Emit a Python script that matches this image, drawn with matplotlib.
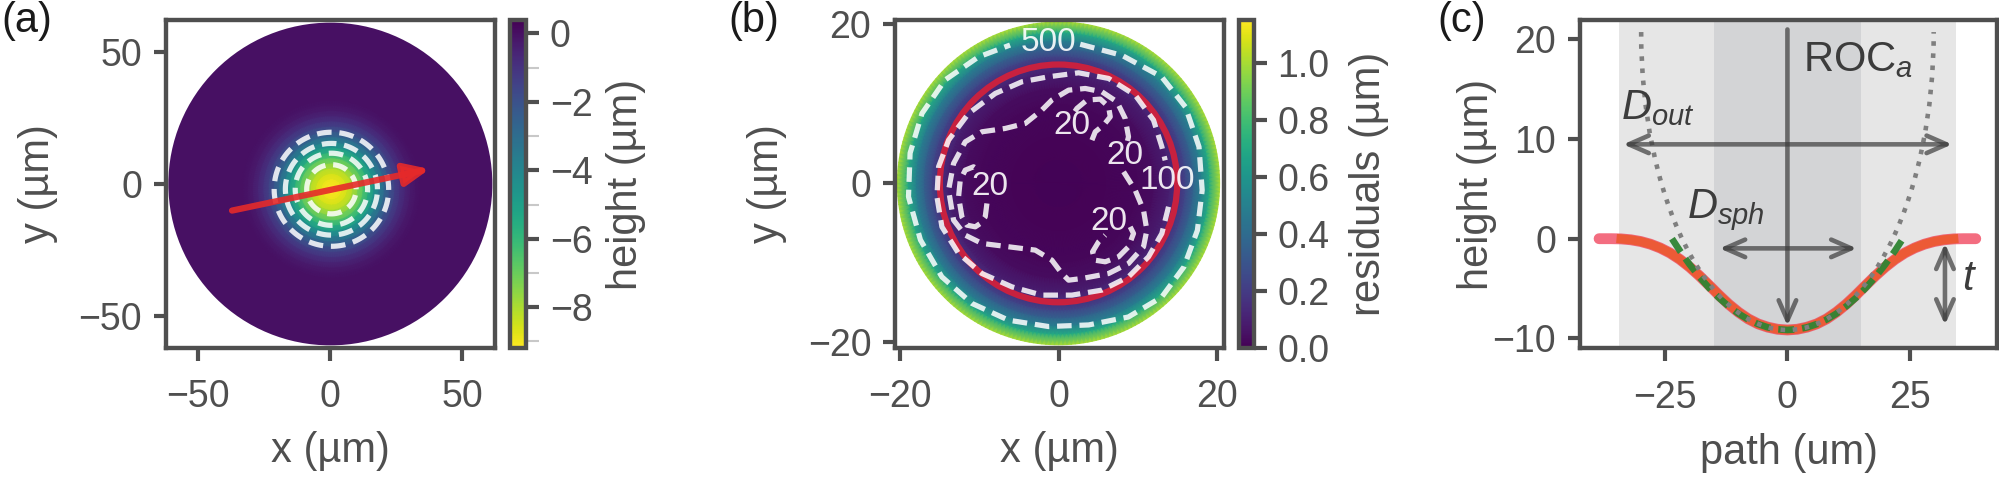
import numpy as np
import matplotlib
matplotlib.use("Agg")
import matplotlib.pyplot as plt
from matplotlib.patches import Circle, Arc

GREY = '#4f4f4f'
plt.rcParams['font.family'] = ['Liberation Sans', 'DejaVu Sans']
plt.rcParams.update({
    'mathtext.fontset': 'custom',
    'mathtext.rm': 'Liberation Sans',
    'mathtext.it': 'Liberation Sans:italic',
    'font.size': 9,
    'axes.labelsize': 10,
    'axes.edgecolor': GREY,
    'axes.linewidth': 1.05,
    'axes.labelcolor': GREY,
    'text.color': GREY,
    'xtick.color': GREY,
    'ytick.color': GREY,
    'xtick.major.size': 3.0,
    'ytick.major.size': 3.0,
    'xtick.major.width': 1.0,
    'ytick.major.width': 1.0,
    'xtick.major.pad': 4.5,
    'ytick.major.pad': 2.7,
    'lines.dashed_pattern': [2.8, 1.5],
})

# ---- data ----
# height profile along the red arrow (panel c), one half, mirrored
path_half = np.array([0, 2, 4, 6, 8, 10, 12, 14, 16, 18, 20, 22, 24, 26, 28, 30, 32, 34, 36, 38.5])
height_half = np.array([-9.16, -9.09, -8.88, -8.55, -8.05, -7.38, -6.58, -5.66, -4.68, -3.72,
                        -2.84, -2.07, -1.43, -0.93, -0.55, -0.28, -0.11, -0.02, 0.0, 0.0])
path = np.concatenate([-path_half[::-1], path_half[1:]])
height = np.concatenate([height_half[::-1], height_half[1:]])

# green dashed fit over the spherical part
fit_half = np.array([0, 2, 4, 6, 8, 10, 12, 14, 16, 18, 20, 22, 23.6])
fit_h_half = np.array([-9.16, -9.09, -8.90, -8.57, -8.11, -7.52, -6.79, -5.94, -4.95, -3.83, -2.58, -1.20, 0.0])
fit_x = np.concatenate([-fit_half[::-1], fit_half[1:]])
fit_h = np.concatenate([fit_h_half[::-1], fit_h_half[1:]])

ROC = 29.9        # sphere radius (dotted)
D_OUT = 68.9
D_SPH = 29.9

# panel (a)
CENTER_A = (0.4, -2.0)
DISK_A = 61.3
levels_a = [-7.6, -5.8, -4.0, -2.2]
arrow_start = (-37.2, -10.1)
arrow_end = (37.6, 5.7)

# panel (b): radial residuals (um)
res_r = np.array([0, 6, 10, 12, 14, 15, 16, 17, 18, 19, 20.3])
res_v = np.array([0.008, 0.012, 0.02, 0.04, 0.1, 0.15, 0.24, 0.36, 0.5, 0.7, 1.0])

c500 = [(2.74, 17.5), (8.0, 16.1), (13.0, 13.4), (16.0, 9.6), (17.7, 4.6), (18.1, -0.85),
        (17.5, -5.9), (15.8, -10.5), (13.0, -14.3), (8.8, -16.8), (3.8, -17.8), (-1.26, -18.0),
        (-6.3, -17.2), (-10.9, -15.1), (-14.7, -11.75), (-17.4, -7.1), (-18.9, -1.68),
        (-18.7, 3.8), (-17.2, 8.8), (-14.3, 13.0), (-10.1, 15.9), (-6.1, 17.4)]
c100 = [(13.86, -2.94), (13.02, -6.30), (11.34, -9.23), (8.82, -11.75), (5.47, -13.42),
        (1.69, -14.05), (-2.10, -14.05), (-5.87, -13.01), (-9.65, -11.33), (-12.59, -8.81),
        (-14.69, -5.46), (-15.32, -1.68), (-15.11, 2.09), (-13.85, 5.44), (-11.33, 8.80),
        (-7.97, 11.31), (-4.61, 12.78), (-1.26, 13.41), (2.53, 13.91), (6.31, 13.20),
        (9.66, 11.10), (11.97, 7.96), (13.02, 4.61), (13.44, 2.9)]
c20_big = [(8.2, 1.46), (9.66, -0.85), (10.71, -3.36), (11.13, -5.88), (10.71, -7.97),
           (8.82, -10.07), (6.31, -11.33), (2.95, -11.96), (1.27, -12.17), (0.43, -11.33),
           (-0.84, -9.65), (-2.93, -8.39), (-6.29, -7.97), (-9.65, -7.55), (-11.75, -6.51),
           (-13.22, -4.62), (-13.85, -0.85), (-13.22, 2.51), (-11.75, 5.23), (-9.65, 6.49),
           (-6.72, 6.91), (-4.19, 7.54), (-2.10, 9.22), (-0.84, 10.48), (1.27, 11.73),
           (3.37, 11.94), (5.47, 11.52), (7.36, 10.27), (8.40, 8.17), (8.82, 5.86), (8.6, 5.0)]
c20_left = [(-9.02, -2.52), (-9.23, -4.20), (-9.86, -5.04), (-10.49, -5.46), (-11.54, -5.25),
            (-12.17, -4.20), (-12.59, -1.68), (-12.38, 0.41), (-11.75, 1.67), (-10.70, 2.09),
            (-10.07, 1.67)]
c20_top = [(4.21, 5.44), (4.63, 6.49), (5.68, 7.33), (6.52, 8.38), (6.31, 9.64), (5.26, 10.60),
           (3.58, 10.48), (2.32, 9.43), (1.9, 8.8)]
c20_bottom = [(9.03, -5.46), (9.45, -6.30), (8.82, -7.97), (7.57, -9.23), (5.89, -9.86),
              (4.54, -9.65), (4.29, -8.60), (5.05, -7.34), (5.89, -6.51)]
contour_lines_b = [c500, c100, c20_big, c20_left, c20_top, c20_bottom]
contour_labels_b = [('500', -1.26, 17.69), ('100', 13.65, 0.41), ('20', 8.40, 3.56),
                    ('20', -8.6, -0.34), ('20', 1.69, 7.33), ('20', 6.31, -4.74)]

# ---- layout (pixel boxes of the reference) ----
W, H = 1999, 479
fig = plt.figure(figsize=(W / 300, H / 300), dpi=300)


def px_axes(l, r, t, b):
    return fig.add_axes([l / W, 1 - b / H, (r - l) / W, (b - t) / H])


ax_a = px_axes(165.7, 495, 20, 348)
cax_a = px_axes(510.5, 526, 20, 348)
ax_b = px_axes(895, 1224, 20, 348)
cax_b = px_axes(1239, 1253.5, 20, 348)
ax_c = px_axes(1580, 1997.3, 20, 348.3)

theta = np.linspace(0, 2 * np.pi, 241)

# ---- (a) height map ----
cmap_a = plt.get_cmap('viridis_r')
norm_a = plt.Normalize(-9.19, 0.39)
R, T = np.meshgrid(path_half, theta, indexing='ij')
Xa = CENTER_A[0] + R * np.cos(T)
Ya = CENTER_A[1] + R * np.sin(T)
Ca = np.repeat(height_half[:, None], theta.size, axis=1)
ax_a.add_patch(Circle((0, 0), DISK_A, color=cmap_a(norm_a(0.0)), lw=0, zorder=0))
mesh_a = ax_a.pcolormesh(Xa, Ya, Ca, cmap=cmap_a, norm=norm_a, shading='gouraud', zorder=1)
ax_a.contour(Xa, Ya, Ca, levels=levels_a, colors='white', linewidths=1.25,
             linestyles='--', alpha=0.85, zorder=2)
ax_a.annotate('', xy=arrow_end, xytext=arrow_start, zorder=3,
              arrowprops=dict(arrowstyle='-|>,head_length=0.5,head_width=0.22',
                              color='#e62a2a', lw=1.5, alpha=0.9,
                              shrinkA=0, shrinkB=0, mutation_scale=10))
ax_a.set_xlim(-62.3, 62.3)
ax_a.set_ylim(-62.3, 62.3)
ax_a.set_xticks([-50, 0, 50])
ax_a.set_yticks([-50, 0, 50])
ax_a.set_xlabel('x (µm)')
ax_a.set_ylabel('y (µm)')

cb_a = fig.colorbar(mesh_a, cax=cax_a)
cb_a.set_ticks([0, -2, -4, -6, -8])
cb_a.ax.set_yticks([-1, -3, -5, -7, -9], minor=True)
cb_a.ax.tick_params(which='minor', length=3.0, width=0.5, color='#c8c8c8')
cb_a.outline.set_linewidth(1.05)
cb_a.outline.set_edgecolor(GREY)
cb_a.set_label('height (µm)')

# ---- (b) residual map ----
cmap_b = plt.get_cmap('viridis')
norm_b = plt.Normalize(0.0, 1.152)
Rb, Tb = np.meshgrid(res_r, theta, indexing='ij')
Xb = Rb * np.cos(Tb)
Yb = Rb * np.sin(Tb)
Cb = np.repeat(res_v[:, None], theta.size, axis=1)
mesh_b = ax_b.pcolormesh(Xb, Yb, Cb, cmap=cmap_b, norm=norm_b, shading='gouraud', zorder=1)
ax_b.add_patch(Circle((0, 0), D_SPH / 2, fill=False, ec='#c8213f', lw=1.5, zorder=2))
for line in contour_lines_b:
    xs, ys = np.array(line).T
    ax_b.plot(xs, ys, ls='--', color='white', lw=1.25, alpha=0.85, zorder=3)
for s, x, y in contour_labels_b:
    ax_b.text(x, y, s, color='white', fontsize=8, ha='center', va='center', alpha=0.9, zorder=4)
ax_b.set_xlim(-20.6, 20.85)
ax_b.set_ylim(-20.7, 20.55)
ax_b.set_xticks([-20, 0, 20])
ax_b.set_yticks([-20, 0, 20])
ax_b.set_xlabel('x (µm)')
ax_b.set_ylabel('y (µm)')

cb_b = fig.colorbar(mesh_b, cax=cax_b)
cb_b.set_ticks([0.0, 0.2, 0.4, 0.6, 0.8, 1.0])
cb_b.ax.yaxis.set_major_formatter('{x:.1f}')
cb_b.outline.set_linewidth(1.05)
cb_b.outline.set_edgecolor(GREY)
cb_b.set_label('residuals (µm)')

# ---- (c) profile ----
ax_c.axvspan(-D_OUT / 2, D_OUT / 2, color='#e6e6e6', lw=0, zorder=0)
ax_c.axvspan(-D_SPH / 2, D_SPH / 2, color='#d3d4d6', lw=0, zorder=0)
ax_c.plot(path, height, color='#f03c55', lw=2.6, alpha=0.75, solid_capstyle='round', zorder=2)
inside = np.abs(path) <= D_OUT / 2
ax_c.plot(path[inside], height[inside], color='#ec5a36', lw=2.2, zorder=3)
ax_c.plot(fit_x, fit_h, ls='--', dashes=(2.4, 1.2), color='#2f8433', lw=1.6, alpha=0.95, zorder=4)
ax_c.add_patch(Arc((0, height.min() + ROC), 2 * ROC, 2 * ROC, theta1=180, theta2=360,
                   ls=':', color='#7f7f7f', lw=1.1, zorder=5))

akw = dict(color='#3c3c3c', alpha=0.7, lw=1.1, shrinkA=0, shrinkB=0, mutation_scale=10)
two_head = '<->,head_length=0.48,head_width=0.21'
ax_c.annotate('', xy=(33.7, 9.47), xytext=(-33.6, 9.47), arrowprops=dict(arrowstyle=two_head, **akw), zorder=6)
ax_c.annotate('', xy=(14.2, -0.97), xytext=(-13.9, -0.97), arrowprops=dict(arrowstyle=two_head, **akw), zorder=6)
ax_c.annotate('', xy=(0, -8.76), xytext=(0, 21.0),
              arrowprops=dict(arrowstyle='->,head_length=0.48,head_width=0.21', **akw), zorder=6)
ax_c.annotate('', xy=(32.2, -8.66), xytext=(32.2, -0.46), arrowprops=dict(arrowstyle=two_head, **akw), zorder=6)

tkw = dict(fontsize=10, color='#3c3c3c', va='baseline', ha='left', zorder=7)
ax_c.text(-34.1, 12.0, r'$D_{out}$', **tkw)
ax_c.text(-20.5, 2.05, r'$D_{sph}$', **tkw)
ax_c.text(3.27, 16.85, r'ROC$_a$', **tkw)
ax_c.text(35.6, -5.15, r'$t$', **tkw)

ax_c.set_xlim(-42.4, 42.9)
ax_c.set_ylim(-11.0, 21.95)
ax_c.set_xticks([-25, 0, 25])
ax_c.set_yticks([-10, 0, 10, 20])
ax_c.set_xlabel('path (um)')
ax_c.set_ylabel('height (µm)')

# label placement
for ax in (ax_a, ax_b):
    ax.xaxis.set_label_coords(0.5, -0.253)
    ax.yaxis.set_label_coords(-0.327, 0.5)
ax_c.xaxis.set_label_coords(0.5, -0.257)
ax_c.yaxis.set_label_coords(-0.199, 0.5)
cax_a.yaxis.set_label_coords(6.16, 0.5)
cax_b.yaxis.set_label_coords(7.61, 0.5)

for lab, x in (('(a)', 1.7), ('(b)', 728.3), ('(c)', 1437)):
    fig.text(x / W, 1 - 1 / H, lab, fontsize=10, color='#1a1a1a', va='top', ha='left')

fig.savefig('out.png', dpi=300)
